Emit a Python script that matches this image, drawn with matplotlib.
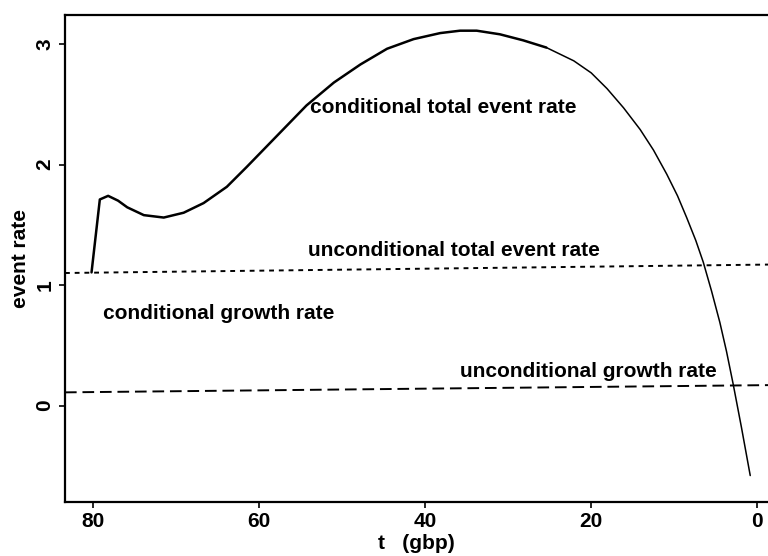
import numpy as np
import matplotlib
matplotlib.use("Agg")
import matplotlib.pyplot as plt

plt.rcParams['font.family'] = ['Liberation Sans', 'DejaVu Sans']

# conditional total event rate
t_cond = [80.2, 79.2, 78.2, 77.0, 75.9, 73.9, 71.5, 69.1, 66.7, 63.9, 61.5, 59.1, 56.7,
          54.3, 51.0, 47.8, 44.6, 41.4, 38.2, 35.8, 33.8, 31.0, 28.2, 25.4, 22.1, 20.0,
          18.1, 16.1, 14.1, 12.5, 10.9, 9.6, 8.5, 7.4, 6.5, 5.5, 4.5, 3.7, 2.9, 1.9, 0.84]
rate_cond = [1.105, 1.71, 1.74, 1.70, 1.645, 1.58, 1.56, 1.60, 1.68, 1.815, 1.98, 2.15, 2.32,
             2.49, 2.68, 2.83, 2.96, 3.04, 3.09, 3.11, 3.11, 3.08, 3.03, 2.97, 2.86, 2.76,
             2.63, 2.47, 2.29, 2.12, 1.92, 1.74, 1.56, 1.37, 1.19, 0.95, 0.69, 0.45, 0.18, -0.18, -0.58]

# unconditional rates (flat lines, slight tilt in the scan)
t_flat = [83.4, -1.3]
rate_uncond_total = [1.10, 1.17]
rate_uncond_growth = [0.11, 0.17]

labels = ["conditional total event rate", "unconditional total event rate",
          "conditional growth rate", "unconditional growth rate"]
label_t = [53.9, 54.1, 78.8, 35.8]
label_y = [2.47, 1.29, 0.76, 0.28]

fig = plt.figure(figsize=(7.68, 5.56), dpi=100)
ax = fig.add_axes([0.0846, 0.097, 0.9154, 0.876])

# scan shows the rising part heavier than the falling part
split = t_cond.index(25.4)
ax.plot(t_cond[:split + 1], rate_cond[:split + 1], color='black', lw=1.8,
        solid_joinstyle='round', solid_capstyle='round')
ax.plot(t_cond[split:], rate_cond[split:], color='black', lw=1.1,
        solid_joinstyle='round', solid_capstyle='round')
ax.plot(t_flat, rate_uncond_total, color='black', lw=1.4, ls=(0, (2.5, 2.5)))
ax.plot(t_flat, rate_uncond_growth, color='black', lw=1.4, ls=(0, (6, 3)))

for txt, tx, ty in zip(labels, label_t, label_y):
    ax.text(tx, ty, txt, fontsize=15, fontweight='bold', ha='left', va='center')

ax.set_xlim(83.4, -1.3)
ax.set_ylim(-0.80, 3.24)
ax.set_xticks([80, 60, 40, 20, 0])
ax.set_yticks([0, 1, 2, 3])
ax.tick_params(direction='out', length=4, width=1.2, labelsize=15)
for lab in ax.get_xticklabels() + ax.get_yticklabels():
    lab.set_fontweight('bold')
for lab in ax.get_yticklabels():
    lab.set_rotation(90)
    lab.set_va('center')

ax.spines['right'].set_visible(False)
for s in ['left', 'bottom', 'top']:
    ax.spines[s].set_linewidth(1.6)

ax.set_xlabel("t   (gbp)", fontsize=15, fontweight='bold', labelpad=2)
ax.set_ylabel("event rate", fontsize=15, fontweight='bold', labelpad=4)

fig.savefig("out.png", dpi=100)
